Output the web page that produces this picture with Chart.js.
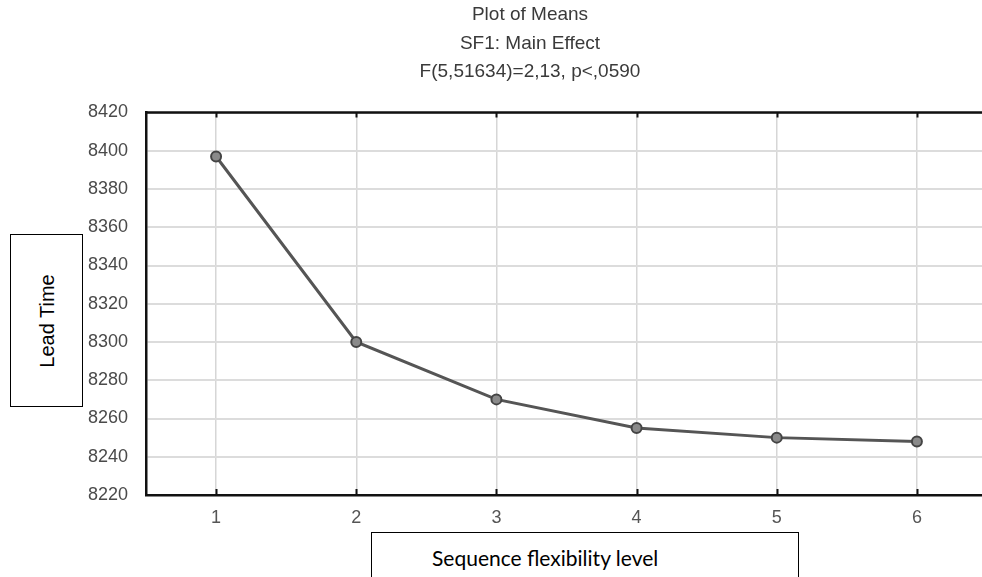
<!DOCTYPE html>
<html>
<head>
<meta charset="utf-8">
<script src="https://cdn.jsdelivr.net/npm/chart.js@4/dist/chart.umd.min.js"></script>
<style>
  html, body { margin: 0; padding: 0; background: #fff; overflow: hidden; width: 982px; height: 577px; }
  #wrap { position: relative; width: 982px; height: 577px; overflow: hidden; }
  canvas { position: absolute; left: 0; top: 0; }
  .ybox { position: absolute; left: 10px; top: 234px; width: 71px; height: 171px; border: 1.5px solid #000; background: #fff; }
  .ybox span { position: absolute; left: 50%; top: 50%; transform: translate(-50%, -50%) rotate(-90deg); white-space: nowrap;
    font-family: "Liberation Sans", Arial, sans-serif; font-size: 20px; color: #000; }
  .xbox { position: absolute; left: 371px; top: 532px; width: 426px; height: 60px; border: 1.5px solid #000; background: #fff; }
  .xbox span { position: absolute; left: 60px; top: 12px; white-space: nowrap;
    font-family: Lato, "Open Sans", sans-serif; font-size: 21px; color: #000; }
</style>
</head>
<body>
<div id="wrap">
  <canvas id="c" width="1000" height="577"></canvas>
  <div class="ybox"><span id="ylab"></span></div>
  <div class="xbox"><span id="xlab"></span></div>
</div>
<script>
const titleLines = ["Plot of Means", "SF1: Main Effect", "F(5,51634)=2,13, p<,0590"];
const yAxisTitle = "Lead Time";
const xAxisTitle = "Sequence flexibility level";
const levels = ["1", "2", "3", "4", "5", "6"];
const leadTime = [8397, 8300, 8270, 8255, 8250, 8248];
const yMin = 8220;
const yMax = 8420;
const yStep = 20;

document.getElementById('ylab').textContent = yAxisTitle;
document.getElementById('xlab').textContent = xAxisTitle;

const frameExtras = {
  id: 'frameExtras',
  afterDraw(chart) {
    const { ctx, chartArea } = chart;
    const xs = chart.scales.x;
    ctx.save();
    ctx.strokeStyle = '#111';
    ctx.lineWidth = 2.5;
    ctx.beginPath();
    ctx.moveTo(chartArea.left - 1, chartArea.top);
    ctx.lineTo(chartArea.right + 20, chartArea.top);
    ctx.stroke();
    // short inward tick marks on top and bottom frame lines
    ctx.lineWidth = 2;
    xs.ticks.forEach((t, i) => {
      const px = Math.round(xs.getPixelForTick(i)) + 0.5;
      ctx.beginPath();
      ctx.moveTo(px, chartArea.bottom);
      ctx.lineTo(px, chartArea.bottom - 6);
      ctx.moveTo(px, chartArea.top);
      ctx.lineTo(px, chartArea.top + 5);
      ctx.stroke();
    });
    ctx.restore();
  }
};

new Chart(document.getElementById('c'), {
  type: 'line',
  data: {
    labels: levels,
    datasets: [{
      data: leadTime,
      borderColor: '#555',
      borderWidth: 3,
      pointRadius: 5,
      pointBackgroundColor: '#8a8a8a',
      pointBorderColor: '#444',
      pointBorderWidth: 2,
      tension: 0,
      fill: false
    }]
  },
  options: {
    responsive: false,
    animation: false,
    devicePixelRatio: 1,
    layout: { padding: { left: 73, right: 13, top: 0, bottom: 0 } },
    plugins: {
      legend: { display: false },
      tooltip: { enabled: false },
      title: {
        display: true,
        text: titleLines,
        color: '#3a3a3a',
        font: { family: '"Liberation Sans", Arial, sans-serif', size: 19, weight: 'normal', lineHeight: 1.5 },
        padding: { top: 1, bottom: 26 }
      }
    },
    scales: {
      x: {
        type: 'category',
        offset: true,
        grid: { display: true, offset: false, color: '#d6d6d6', lineWidth: 1.5, drawTicks: false },
        border: { display: true, color: '#111', width: 2.5 },
        ticks: { color: '#555', padding: 12, font: { family: '"Liberation Sans", Arial, sans-serif', size: 18 } },
        afterFit(scale) { scale.height = 82; }
      },
      y: {
        min: yMin,
        max: yMax,
        grid: { color: '#dcdcdc', lineWidth: 2, drawTicks: false },
        border: { display: true, color: '#111', width: 2.5 },
        ticks: {
          stepSize: yStep, color: '#4a4a4a', padding: 18,
          font: { family: '"Liberation Sans", Arial, sans-serif', size: 18 },
          callback: (v) => String(v)
        },
        afterFit(scale) { scale.width = 73; }
      }
    }
  },
  plugins: [frameExtras]
});
</script>
</body>
</html>
